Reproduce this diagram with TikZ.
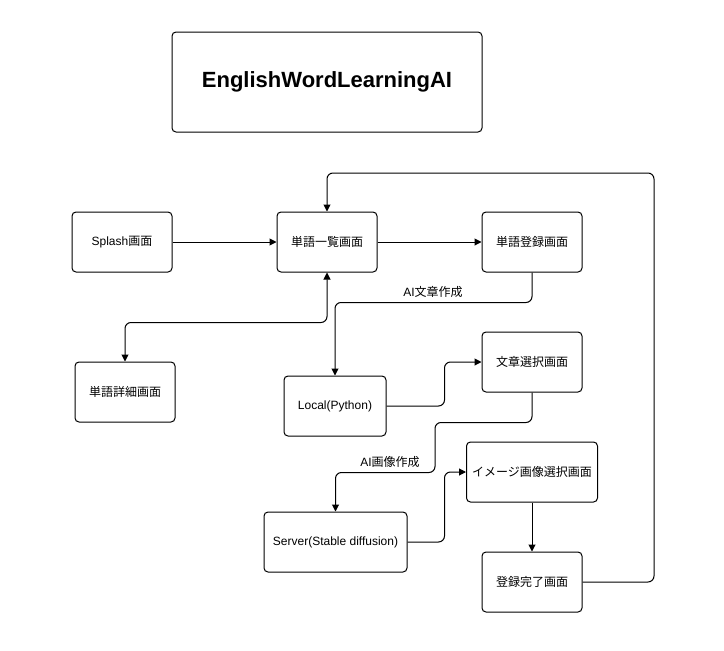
\documentclass[tikz,border=0pt]{standalone}
\usepackage{fontspec}
\setmainfont{Liberation Sans}
\newfontfamily\jp{Noto Sans CJK JP}
\usetikzlibrary{arrows.meta}
\begin{document}
\begin{tikzpicture}[x=1pt,y=-1pt,
  box/.style={draw, rounded corners=4pt, line width=1pt, minimum width=100pt, minimum height=60pt, font=\fontsize{12}{14}\selectfont},
  link/.style={line width=1pt, rounded corners=6pt, -{Triangle[length=7pt,width=7pt]}},
  tag/.style={font=\fontsize{12}{14}\selectfont}]
\useasboundingbox (0,0) rectangle (724,651);
\node[box, minimum width=310pt, minimum height=100pt, font=\fontsize{22}{26}\selectfont\bfseries] (title) at (327,82) {EnglishWordLearningAI};
\node[box] (splash) at (122,242) {Splash{\jp 画面}};
\node[box] (ichiran) at (327,242) {\jp 単語一覧画面};
\node[box] (touroku) at (532,242) {\jp 単語登録画面};
\node[box] (shousai) at (125,392) {\jp 単語詳細画面};
\node[box, minimum width=102pt] (local) at (335,406) {Local(Python)};
\node[box] (bunsho) at (532,362) {\jp 文章選択画面};
\node[box, minimum width=131pt] (image) at (532,472) {\jp イメージ画像選択画面};
\node[box, minimum width=143pt] (server) at (335.5,542) {Server(Stable diffusion)};
\node[box] (kanryo) at (532,582) {\jp 登録完了画面};
% labels
\node[tag] (bunlbl) at (433,292) {AI{\jp 文章作成}};
\node[tag] (imglbl) at (390,462) {AI{\jp 画像作成}};
% links
\draw[link] (splash) -- (ichiran);
\draw[link] (ichiran) -- (touroku);
\draw[link, {Triangle[length=7pt,width=7pt]}-{Triangle[length=7pt,width=7pt]}] (ichiran.south) -- ++(0,50) -| (shousai.north);
\draw[link] (touroku.south) -- ++(0,30) -| (local.north);
\draw[link] (local.east) -- ++(58,0) |- (bunsho.west);
\draw[link] (bunsho.south) -- ++(0,30) -| ++(-97,50) -| (server.north);
\draw[link] (server.east) -- ++(37,0) |- (image.west);
\draw[link] (image) -- (kanryo);
\draw[link] (kanryo.east) -| (654,173) -| (ichiran.north);
\end{tikzpicture}
\end{document}
